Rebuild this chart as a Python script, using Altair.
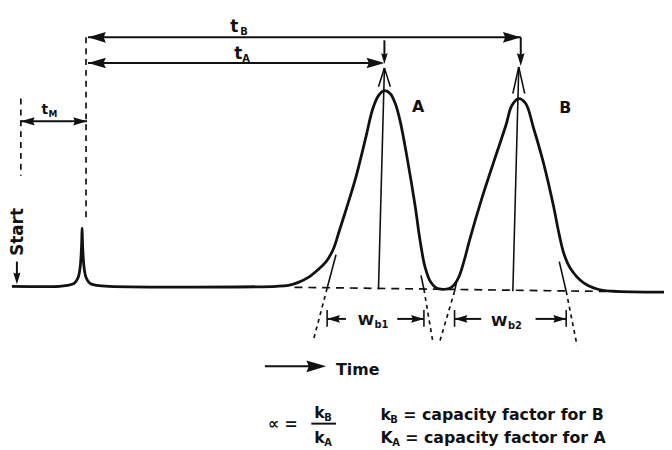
import altair as alt
import pandas as pd

# ---- chromatogram trace: time position and detector signal (signal = 450 - screen row) ----
trace_time = [12, 60, 68, 75, 79, 81, 82.5, 83, 83.5, 85, 87, 91, 98, 110,
              280, 292, 302, 312, 322, 330, 337, 343, 350, 360, 370, 377, 383, 389,
              395, 400, 405, 412, 420, 425, 430, 436, 442, 448, 455, 460, 465, 470,
              475, 487, 500, 512, 518, 525, 532, 540, 550, 560, 566, 571, 578, 590,
              605, 620, 672]
trace_row = [287, 287, 286, 284, 278, 268, 245, 228, 245, 268, 278, 284, 286, 287,
             287, 286, 283, 278, 270, 262, 250, 232, 210, 177, 137, 108, 94, 89,
             92, 102, 120, 157, 205, 240, 267, 283, 289, 290, 289, 285, 276, 260,
             241, 200, 160, 124, 104, 97, 102, 127, 162, 205, 235, 255, 270, 283,
             290, 292, 293]

# ---- annotation segments (t, row, t2, row2) ----
arrow_lines = [  # heavy arrow shafts
    (89, 35, 527, 35), (527, 35, 527, 58), (89, 61, 383, 61), (389, 38, 389, 56),
    (21, 120, 88, 120), (17, 262, 17, 279), (268, 368, 322, 368),
    (331, 320, 350, 320), (402, 320, 429, 320), (460, 320, 487, 320), (542, 320, 573, 320),
    (315, 426, 340, 426)]
thin_lines = [  # retention verticals, tangents, width ticks
    (389, 66, 383, 290), (525, 65, 519, 292),
    (383, 85, 389, 66), (389, 66, 395, 85), (519, 92, 525, 65), (525, 65, 531, 92),
    (340, 255, 331, 289), (426, 276, 429, 290), (462, 283, 460, 292), (566, 262, 573, 292),
    (331, 311, 331, 328), (429, 311, 429, 328), (460, 311, 460, 328), (573, 311, 573, 328)]
dash_lines = [(21, 97, 21, 175), (87, 35, 87, 220)]
baseline_line = [(298, 288, 672, 293)]
tangent_dash = [(331, 289, 317, 342), (429, 290, 438, 343), (460, 292, 445, 343), (573, 292, 584, 347)]

# ---- arrow heads: tip t, tip row, direction (deg clockwise from right), length ----
heads = [(89, 35, 180, 18), (527, 35, 0, 18), (527, 64, 90, 13),
         (89, 61, 180, 18), (389, 61, 0, 18), (389, 62, 90, 11),
         (21, 120, 180, 14), (88, 120, 0, 14), (17, 285, 90, 12), (330, 368, 0, 20),
         (331, 320, 180, 13), (429, 320, 0, 13), (460, 320, 180, 13), (573, 320, 0, 13)]

# ---- text: label, t, baseline row, font size ----
labels = [("t", 233, 30, 17), ("B", 243, 33, 10),
          ("t", 237, 57, 17), ("A", 245, 60, 10),
          ("t", 42, 113, 14), ("M", 49, 116, 9),
          ("A", 417, 111, 16), ("B", 566, 112, 16),
          ("W", 362, 326, 15), ("b1", 379, 329, 10),
          ("W", 497, 327, 15), ("b2", 514, 330, 10),
          ("Time", 340, 377, 16),
          ("∝ =", 271, 431, 16),
          ("k", 318, 420, 16), ("B", 328, 423, 10),
          ("k", 318, 446, 16), ("A", 328, 449, 10),
          ("k", 385, 422, 16), ("B", 395, 425, 10), ("= capacity factor for B", 408, 422, 16),
          ("K", 385, 446, 16), ("A", 397, 449, 10), ("= capacity factor for A", 410, 446, 16)]
vertical_label = [("Start", 18, 232, 17)]

FONT = "DejaVu Sans"
INK = "#111111"


def sig(row):
    return 450 - row


xs = alt.Scale(domain=[8, 672], nice=False, zero=False)
ys = alt.Scale(domain=[0, 442], nice=False, zero=False)

trace_df = pd.DataFrame({"t": trace_time, "s": [sig(r) for r in trace_row]})


def seg_df(segs):
    return pd.DataFrame([{"t": a, "s": sig(b), "t2": c, "s2": sig(d)} for a, b, c, d in segs])


def seg_layer(segs, width, dash=None):
    kw = dict(color=INK, strokeWidth=width)
    if dash:
        kw["strokeDash"] = dash
    return alt.Chart(seg_df(segs)).mark_rule(**kw).encode(
        x=alt.X("t:Q", scale=xs, axis=None), y=alt.Y("s:Q", scale=ys, axis=None),
        x2="t2:Q", y2="s2:Q")


curve = alt.Chart(trace_df).mark_line(color=INK, strokeWidth=2.8, interpolate="catmull-rom").encode(
    x=alt.X("t:Q", scale=xs, axis=None), y=alt.Y("s:Q", scale=ys, axis=None))

heads_df = pd.DataFrame([{"t": a, "s": sig(b), "ang": c, "sz": L * L} for a, b, c, L in heads])
head_layer = alt.Chart(heads_df).mark_point(
    shape="M0,0L-2,-0.6L-1.75,0L-2,0.6Z", filled=True, color=INK, opacity=1, strokeWidth=0).encode(
    x=alt.X("t:Q", scale=xs, axis=None), y=alt.Y("s:Q", scale=ys, axis=None),
    angle=alt.Angle("ang:Q", scale=None), size=alt.Size("sz:Q", scale=None))

lab_df = pd.DataFrame([{"txt": a, "t": b, "s": sig(c), "fs": d} for a, b, c, d in labels])
text_layer = alt.Chart(lab_df).mark_text(
    align="left", baseline="alphabetic", font=FONT, fontWeight="bold", color=INK).encode(
    x=alt.X("t:Q", scale=xs, axis=None), y=alt.Y("s:Q", scale=ys, axis=None),
    text="txt:N", size=alt.Size("fs:Q", scale=None))

vlab_df = pd.DataFrame([{"txt": a, "t": b, "s": sig(c), "fs": d} for a, b, c, d in vertical_label])
vtext_layer = alt.Chart(vlab_df).mark_text(
    align="center", baseline="middle", angle=270, font=FONT, fontWeight="bold", color=INK).encode(
    x=alt.X("t:Q", scale=xs, axis=None), y=alt.Y("s:Q", scale=ys, axis=None),
    text="txt:N", size=alt.Size("fs:Q", scale=None))

chart = alt.layer(
    seg_layer(baseline_line, 1.7, [8, 6]),
    seg_layer(dash_lines, 1.7, [6, 5]),
    seg_layer(tangent_dash, 1.7, [4, 4]),
    seg_layer(thin_lines, 1.6),
    seg_layer(arrow_lines, 2.0),
    curve,
    head_layer,
    text_layer,
    vtext_layer,
).properties(
    width=664, height=442, padding=0, autosize=alt.AutoSizeParams(type="none"),
    background="white"
).configure_view(stroke=None)

chart.save("out.html", embed_options={"renderer": "svg", "actions": False})
